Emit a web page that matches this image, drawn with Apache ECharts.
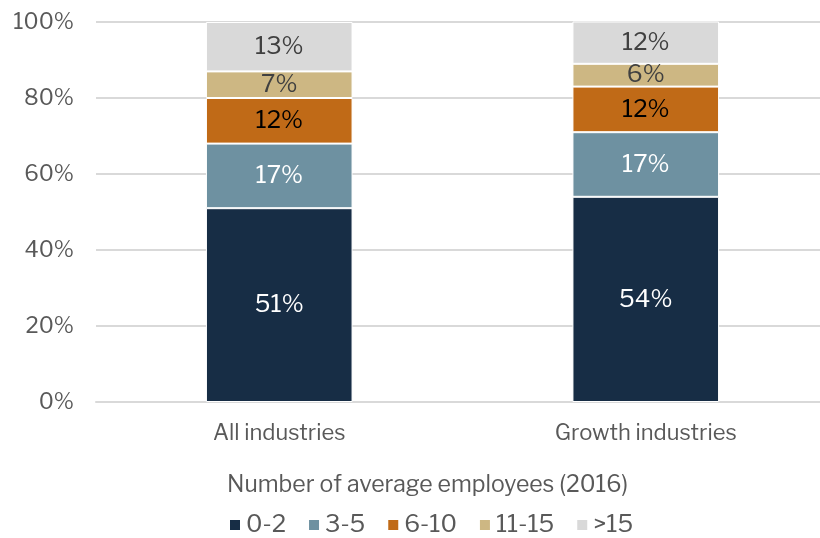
<!DOCTYPE html>
<html>
<head>
<meta charset="utf-8">
<script src="https://cdn.jsdelivr.net/npm/echarts@6/dist/echarts.min.js"></script>
<style>
  html, body { margin: 0; padding: 0; background: #fff; }
  #chart { width: 820px; height: 538px; }
</style>
</head>
<body>
<div id="chart"></div>
<script>
// Share of firms by average number of employees (2016), in percent
const categories = ['All industries', 'Growth industries'];
const sizeBands = ['0-2', '3-5', '6-10', '11-15', '>15'];
const band0to2 = [51, 54];
const band3to5 = [17, 17];
const band6to10 = [12, 12];
const band11to15 = [7, 6];
const bandOver15 = [13, 12];
const yTicks = [0, 20, 40, 60, 80, 100];

const bandValues = [band0to2, band3to5, band6to10, band11to15, bandOver15];
const bandColors = ['#172d45', '#6e91a1', '#c06a17', '#cdb783', '#d9d9d9'];
const labelColors = ['#ffffff', '#ffffff', '#000000', '#404040', '#404040'];
const fontFamily = '"Libre Franklin", "Liberation Sans", Arial, sans-serif';

const chart = echarts.init(document.getElementById('chart'));

const series = sizeBands.map((name, i) => ({
  name: name,
  type: 'bar',
  stack: 'share',
  barWidth: '40%',
  data: bandValues[i],
  itemStyle: { color: bandColors[i], borderColor: '#ffffff', borderWidth: 1 },
  label: {
    show: true,
    position: 'inside',
    formatter: p => p.value + '%',
    color: labelColors[i],
    fontSize: 24,
    fontFamily: fontFamily
  }
}));

chart.setOption({
  animation: false,
  backgroundColor: '#ffffff',
  // plot area runs past the right edge so the gridlines reach the border
  grid: { left: 96, top: 22, right: -9, height: 380, outerBoundsMode: 'none', containLabel: false },
  legend: {
    data: sizeBands,
    top: 513,
    left: 228,
    padding: 0,
    itemWidth: 12,
    itemHeight: 12,
    itemGap: 21,
    icon: 'rect',
    textStyle: { color: '#595959', fontSize: 24, fontFamily: fontFamily }
  },
  xAxis: {
    type: 'category',
    data: categories,
    name: 'Number of average employees (2016)',
    nameLocation: 'middle',
    nameGap: 72,
    nameTextStyle: { color: '#595959', fontSize: 23, fontFamily: fontFamily, padding: [0, 70, 0, 0] },
    axisLine: { show: true, lineStyle: { color: '#d9d9d9', width: 2 } },
    axisTick: { show: false },
    axisLabel: { color: '#595959', fontSize: 22, fontFamily: fontFamily, margin: 20 }
  },
  yAxis: {
    type: 'value',
    min: yTicks[0],
    max: yTicks[yTicks.length - 1],
    interval: yTicks[1] - yTicks[0],
    axisLine: { show: false },
    axisTick: { show: false },
    splitLine: { lineStyle: { color: '#d9d9d9', width: 2 } },
    axisLabel: { color: '#595959', fontSize: 22, fontFamily: fontFamily, margin: 22, formatter: v => v + '%' }
  },
  series: series
});
</script>
</body>
</html>
